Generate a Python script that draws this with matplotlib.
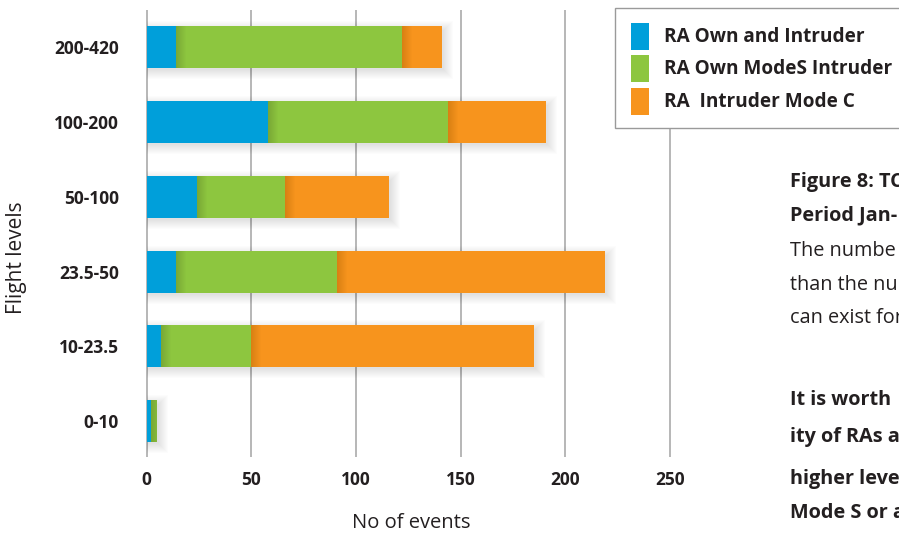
import matplotlib.pyplot as plt
from matplotlib.patches import Rectangle
import numpy as np

plt.rcParams['font.family'] = ['Open Sans', 'DejaVu Sans']

levels = ['0-10', '10-23.5', '23.5-50', '50-100', '100-200', '200-420']
own_and_intruder = [2, 7, 14, 24, 58, 14]
own_modes_intruder = [3, 43, 77, 42, 86, 108]
intruder_mode_c = [0, 135, 128, 50, 47, 19]

series_names = ['RA Own and Intruder', 'RA Own ModeS Intruder', 'RA  Intruder Mode C']
colors = ['#009fda', '#8dc63f', '#f7941d']
xticks = [0, 50, 100, 150, 200, 250]

text_dark = '#231f20'
W, H = 899, 535

fig = plt.figure(figsize=(W / 100, H / 100), dpi=100)

# axes placed so that 0..250 spans 146.5..670 px
px_per_unit = (670 - 146.5) / 250
x_lo, x_hi = -2, 252
left_px = 146.5 + x_lo * px_per_unit
right_px = 670 + (x_hi - 250) * px_per_unit
top_px, bottom_px = 10, 457
ax = fig.add_axes([left_px / W, 1 - bottom_px / H,
                   (right_px - left_px) / W, (bottom_px - top_px) / H])

y = np.arange(len(levels))
h = 0.56
stack = np.array([own_and_intruder, own_modes_intruder, intruder_mode_c], dtype=float)
totals = stack.sum(axis=0)

# soft drop shadow behind each bar
dx = 1.0 / px_per_unit
dy = 1.0 / 75
for k in range(1, 11):
    ax.barh(y - 3 * dy, totals + (1 + k) * dx, height=h + (k - 2) * 2 * dy,
            left=0, color='k', alpha=0.012, linewidth=0, zorder=1)

lefts = np.zeros(len(levels))
for vals, c in zip(stack, colors):
    ax.barh(y, vals, left=lefts, height=h, color=c, linewidth=0, zorder=2)
    lefts += vals

# faint darker band where one segment starts after another
bounds = np.cumsum(stack, axis=0)[:-1]
for i, b in enumerate(bounds):
    nxt = stack[i + 1]
    for j in range(10):
        w = np.minimum(nxt, (10 - j) * dx)
        ax.barh(y, w, left=b, height=h, color='k', alpha=0.013, linewidth=0, zorder=3)

ax.set_xlim(x_lo, x_hi)
ax.set_ylim(-0.48, 5.5)
ax.set_xticks(xticks)
ax.set_yticks(y)
ax.set_yticklabels(levels)
ax.grid(axis='x', color='#a3a3a3', linewidth=1.1, zorder=0)
ax.set_axisbelow(True)
for s in ax.spines.values():
    s.set_visible(False)
ax.tick_params(length=0, labelsize=12.5, colors=text_dark)
ax.tick_params(axis='y', pad=17)
ax.tick_params(axis='x', pad=10)
for lab in ax.get_xticklabels() + ax.get_yticklabels():
    lab.set_fontweight('bold')

fig.text(411 / W, 1 - 523 / H, 'No of events', ha='center', va='center',
         fontsize=14.5, color=text_dark)
fig.text(17 / W, 1 - 258 / H, 'Flight levels', ha='center', va='center',
         rotation=90, fontsize=15, color=text_dark)

# legend box, running off the right edge
fig.patches.append(Rectangle((615 / W, 1 - 128 / H), 400 / W, 120 / H,
                             transform=fig.transFigure, facecolor='white',
                             edgecolor='#9a9a9a', linewidth=1, zorder=5))
sw_top = [23, 55, 88]
for name, c, t in zip(series_names, colors, sw_top):
    fig.patches.append(Rectangle((631 / W, 1 - (t + 27) / H), 18 / W, 27 / H,
                                 transform=fig.transFigure, facecolor=c,
                                 linewidth=0, zorder=6))
    fig.text(664 / W, 1 - (t + 14) / H, name, ha='left', va='center',
             fontsize=13.7, fontweight='bold', color=text_dark, zorder=7)

body = [
    ('Figure 8: TC', 182, 'bold'),
    ('Period Jan-', 215, 'bold'),
    ('The numbe', 251, 'normal'),
    ('than the nu', 285, 'normal'),
    ('can exist for', 318, 'normal'),
    ('It is worth', 400, 'bold'),
    ('ity of RAs a', 437, 'bold'),
    ('higher leve', 479, 'bold'),
    ('Mode S or a', 513, 'bold'),
]
for txt, yp, wt in body:
    fig.text(790 / W, 1 - yp / H, txt, ha='left', va='center', fontsize=14.3,
             fontweight=wt, color=text_dark)

fig.savefig('out.png', dpi=100)
